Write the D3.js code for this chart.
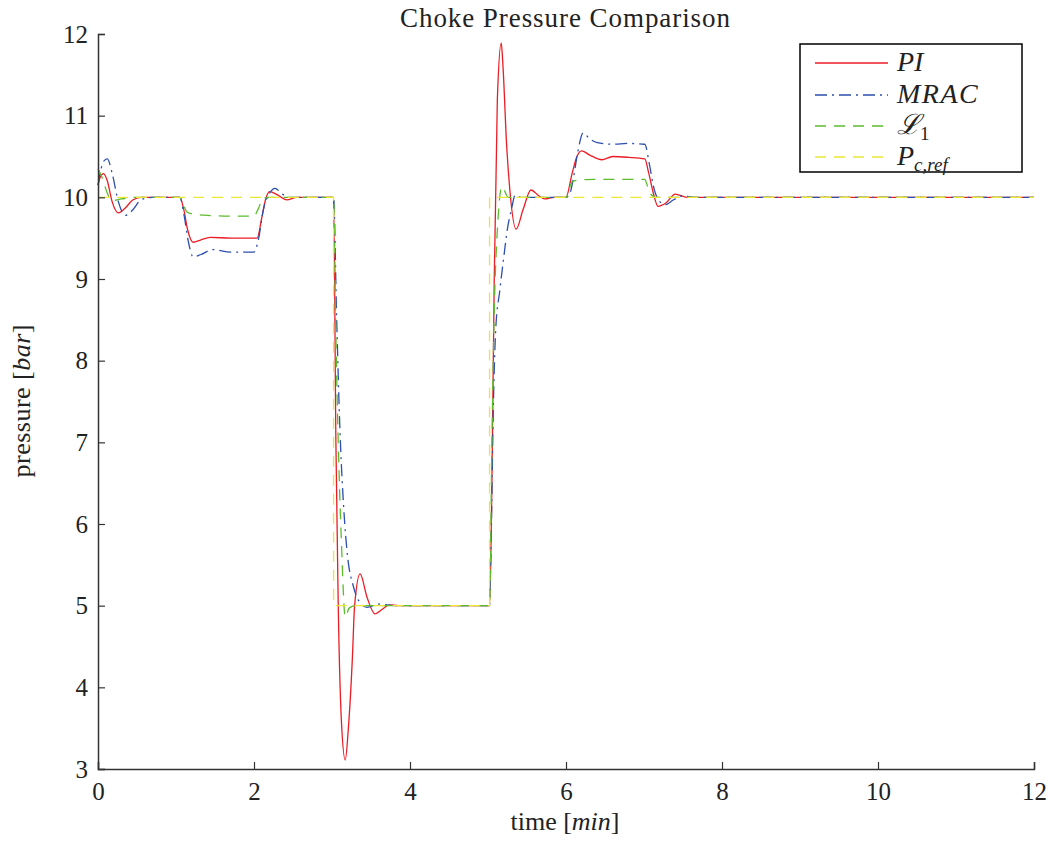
<!DOCTYPE html>
<html>
<head>
<meta charset="utf-8">
<script src="https://cdn.jsdelivr.net/npm/d3@7"></script>
<style>
  body { margin: 0; background: #fff; }
  svg { display: block; }
  text { font-family: "Liberation Serif", "DejaVu Serif", serif; fill: #222; }
</style>
</head>
<body>
<script>
var W = 1050, H = 843;
var margin = {left: 98, right: 16, top: 34, bottom: 74};

// reference set point
var refT = [0, 3.02, 3.02, 5.02, 5.02, 12];
var refP = [10, 10, 5, 5, 10, 10];

// PI controller
var piT = [0, 0.03, 0.07, 0.12, 0.18, 0.26, 0.35, 0.45, 0.56, 0.8, 1.05, 1.1, 1.15, 1.22, 1.32, 1.44, 1.7, 2.04, 2.1, 2.15, 2.2, 2.3, 2.42, 2.55,
           3.02, 3.05, 3.08, 3.12, 3.17, 3.21, 3.26, 3.29, 3.36, 3.45, 3.55, 3.65, 3.74, 3.85,
           5.02, 5.05, 5.08, 5.12, 5.17, 5.19, 5.24, 5.28, 5.36, 5.45, 5.55, 5.65, 5.73, 5.85,
           6.0, 6.08, 6.14, 6.2, 6.3, 6.46, 6.6, 6.8, 7.01, 7.06, 7.12, 7.18, 7.28, 7.4, 7.55, 7.7, 12];
var piP = [10.15, 10.25, 10.29, 10.2, 9.95, 9.81, 9.87, 9.97, 10.0, 10.0, 10.0, 9.85, 9.6, 9.45, 9.48, 9.51, 9.5, 9.5, 9.75, 9.98, 10.07, 10.03, 9.97, 10.0,
           10.0, 7.0, 5.0, 3.6, 3.11, 3.5, 4.33, 5.0, 5.39, 5.1, 4.9, 4.96, 5.01, 5.0,
           5.0, 6.5, 9.0, 11.2, 11.89, 11.64, 10.62, 10.09, 9.61, 9.85, 10.09, 10.02, 9.98, 10.0,
           10.0, 10.3, 10.5, 10.57, 10.52, 10.46, 10.5, 10.49, 10.47, 10.3, 10.05, 9.89, 9.93, 10.04, 10.0, 10.0, 10.0];

// MRAC controller
var mracT = [0, 0.04, 0.08, 0.12, 0.18, 0.26, 0.35, 0.45, 0.55, 0.7, 1.05, 1.1, 1.16, 1.22, 1.32, 1.47, 1.7, 2.0, 2.06, 2.12, 2.2, 2.27, 2.35, 2.45, 2.6,
             3.02, 3.06, 3.1, 3.15, 3.2, 3.27, 3.35, 3.45, 3.6, 3.8,
             5.02, 5.04, 5.07, 5.1, 5.15, 5.2, 5.25, 5.3, 5.35, 5.42, 5.55,
             6.0, 6.05, 6.09, 6.15, 6.22, 6.3, 6.4, 6.6, 6.8, 7.01, 7.07, 7.13, 7.2, 7.27, 7.38, 7.5, 7.65, 12];
var mracP = [10.15, 10.35, 10.45, 10.47, 10.3, 9.95, 9.78, 9.85, 9.97, 10.0, 10.0, 9.8, 9.45, 9.27, 9.3, 9.36, 9.33, 9.33, 9.5, 9.85, 10.05, 10.11, 10.05, 10.0, 10.0,
             10.0, 8.5, 7.2, 6.2, 5.6, 5.25, 5.05, 4.98, 5.02, 5.0,
             5.0, 5.8, 7.5, 8.4, 8.85, 9.25, 9.62, 9.85, 10.03, 10.0, 10.0,
             10.0, 10.05, 10.21, 10.55, 10.79, 10.72, 10.67, 10.65, 10.66, 10.65, 10.4, 10.1, 9.95, 9.91, 9.97, 10.02, 10.0, 10.0];

// L1 adaptive controller
var l1T = [0, 0.05, 0.12, 0.18, 0.3, 0.5, 1.05, 1.1, 1.14, 1.2, 1.4, 1.7, 2.0, 2.05, 2.12, 2.2,
           3.02, 3.05, 3.08, 3.12, 3.17, 3.22, 3.3,
           5.02, 5.05, 5.08, 5.12, 5.18, 5.26, 5.35,
           6.0, 6.04, 6.08, 6.15, 6.4, 7.01, 7.05, 7.08, 7.15, 12];
var l1P = [10.35, 10.25, 10.05, 9.96, 9.98, 10.0, 10.0, 9.9, 9.82, 9.8, 9.78, 9.77, 9.77, 9.85, 9.99, 10.0,
           10.0, 8.3, 7.0, 5.8, 4.86, 4.97, 5.0,
           5.0, 7.0, 8.6, 9.6, 10.13, 10.0, 10.0,
           10.0, 10.1, 10.19, 10.21, 10.22, 10.22, 10.12, 10.05, 10.0, 10.0];

var xTicks = [0, 2, 4, 6, 8, 10, 12];
var yTicks = [3, 4, 5, 6, 7, 8, 9, 10, 11, 12];

var series = [
  {name: "PI", t: piT, p: piP, color: "#ec1c24", dash: null, curve: d3.curveMonotoneX},
  {name: "MRAC", t: mracT, p: mracP, color: "#2d4fae", dash: "12,5,2,5", curve: d3.curveMonotoneX},
  {name: "L1", t: l1T, p: l1P, color: "#5cbc2e", dash: "11,8", curve: d3.curveMonotoneX},
  {name: "ref", t: refT, p: refP, color: "#ece634", dash: "11,8", curve: d3.curveLinear}
];

var svg = d3.select("body").append("svg")
  .attr("width", W).attr("height", H);

var x = d3.scaleLinear().domain([0, 12]).range([margin.left, W - margin.right]);
var y = d3.scaleLinear().domain([3, 12]).range([H - margin.bottom, margin.top]);

var line = d3.line().x(function(d) { return x(d[0]); }).y(function(d) { return y(d[1]); });

series.forEach(function(s) {
  var pts = s.t.map(function(t, i) { return [t, s.p[i]]; });
  svg.append("path")
    .attr("d", line.curve(s.curve)(pts))
    .attr("fill", "none")
    .attr("stroke", s.color)
    .attr("stroke-width", 1.3)
    .attr("stroke-dasharray", s.dash);
});

// axes
var xAxis = svg.append("g")
  .attr("transform", "translate(0," + (H - margin.bottom) + ")")
  .call(d3.axisBottom(x).tickValues(xTicks).tickSize(-7).tickPadding(12).tickFormat(d3.format("d")));
var yAxis = svg.append("g")
  .attr("transform", "translate(" + margin.left + ",0)")
  .call(d3.axisLeft(y).tickValues(yTicks).tickSize(-7).tickPadding(10).tickFormat(d3.format("d")));

[xAxis, yAxis].forEach(function(g) {
  g.select(".domain").attr("stroke", "#333").attr("stroke-width", 1.5);
  g.selectAll(".tick line").attr("stroke", "#333").attr("stroke-width", 1.2);
  g.selectAll(".tick text").style("font-size", "25px").attr("fill", "#222")
    .style("font-family", "'Liberation Serif', serif");
});
xAxis.selectAll(".tick text").attr("dy", "0.75em");

// title
svg.append("text")
  .attr("x", 565).attr("y", 27)
  .attr("text-anchor", "middle")
  .attr("textLength", 330).attr("lengthAdjust", "spacing")
  .style("font-size", "27px")
  .text("Choke Pressure Comparison");

// axis labels
var xl = svg.append("text")
  .attr("x", 565).attr("y", 830)
  .attr("text-anchor", "middle")
  .style("font-size", "26px");
xl.append("tspan").text("time [");
xl.append("tspan").style("font-style", "italic").text("min");
xl.append("tspan").text("]");

var yl = svg.append("text")
  .attr("transform", "translate(30,401) rotate(-90)")
  .attr("text-anchor", "middle")
  .attr("textLength", 153).attr("lengthAdjust", "spacing")
  .style("font-size", "26px");
yl.append("tspan").text("pressure [");
yl.append("tspan").style("font-style", "italic").text("bar");
yl.append("tspan").text("]");

// legend
var leg = svg.append("g");
leg.append("rect")
  .attr("x", 800).attr("y", 44).attr("width", 222).attr("height", 128)
  .attr("fill", "#fff").attr("stroke", "#000").attr("stroke-width", 1.5);

var legRows = [63, 95, 126, 157];
series.forEach(function(s, i) {
  leg.append("line")
    .attr("x1", 815).attr("x2", 888)
    .attr("y1", legRows[i]).attr("y2", legRows[i])
    .attr("stroke", s.color).attr("stroke-width", 1.3)
    .attr("stroke-dasharray", s.dash);
});

function legText(i) {
  return leg.append("text")
    .attr("x", 897).attr("y", legRows[i] + 8)
    .style("font-size", "28px").style("font-style", "italic");
}
legText(0).text("PI");
legText(1).attr("letter-spacing", 1.5).text("MRAC");
var t2 = legText(2);
t2.append("tspan").text("\u2112");
t2.append("tspan").style("font-style", "normal").style("font-size", "19px").attr("dy", 6).text("1");
var t3 = legText(3);
t3.append("tspan").text("P");
t3.append("tspan").style("font-size", "19px").attr("dy", 6).text("c,ref");
</script>
</body>
</html>
